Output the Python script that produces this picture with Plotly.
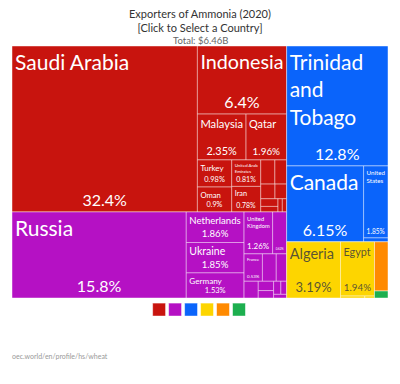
import plotly.graph_objects as go

# ---------------- data ----------------
continents = ["Asia", "Europe", "North America", "Africa", "South America", "Oceania"]
continent_colors = ["#C8140E", "#B511C4", "#0A64FB", "#FDD500", "#FF8A00", "#1DAF4F"]

asia_countries = ["Saudi Arabia", "Indonesia", "Malaysia", "Qatar", "Turkey", "Oman",
                  "United Arab Emirates", "Iran", "China", "Japan", "Kuwait", "Bahrain",
                  "South Korea", "India", "Israel", "Singapore"]
asia_shares = [32.4, 6.4, 2.35, 1.96, 0.98, 0.9, 0.81, 0.78, 0.36, 0.3, 0.22, 0.18,
               0.14, 0.1, 0.06, 0.06]

europe_countries = ["Russia", "Netherlands", "Ukraine", "Germany", "United Kingdom", "France",
                    "Lithuania", "Belgium", "Poland", "Belarus", "Bulgaria", "Croatia",
                    "Romania", "Austria", "Spain"]
europe_shares = [15.8, 1.86, 1.85, 1.53, 1.26, 0.53, 0.62, 0.4, 0.3, 0.25, 0.15, 0.12,
                 0.1, 0.08, 0.05]

north_america_countries = ["Trinidad and Tobago", "Canada", "United States", "Mexico"]
north_america_shares = [12.8, 6.15, 1.85, 0.1]

africa_countries = ["Algeria", "Egypt", "Nigeria", "Libya"]
africa_shares = [3.19, 1.94, 0.05, 0.02]

south_america_countries = ["Venezuela"]
south_america_shares = [0.7]

oceania_countries = ["Australia"]
oceania_shares = [0.1]

title_text = "Exporters of Ammonia (2020)<br>[Click to Select a Country]"
total_label = "Total: $6.46B"
source_label = "oec.world/en/profile/hs/wheat"

wrapped_names = {
    "Trinidad and Tobago": "Trinidad<br>and<br>Tobago",
    "United Kingdom": "United<br>Kingdom",
    "United States": "United<br>States",
    "United Arab Emirates": "United Arab<br>Emirates",
}
name_hidden = ["Lithuania", "Venezuela"]   # tiles too narrow for a name in the reference
pct_hidden = ["Venezuela"]
short_tiles = ["Germany"]                  # flat tiles get slightly smaller text

# ---------------- build hierarchy ----------------
groups = [
    (asia_countries, asia_shares),
    (europe_countries, europe_shares),
    (north_america_countries, north_america_shares),
    (africa_countries, africa_shares),
    (south_america_countries, south_america_shares),
    (oceania_countries, oceania_shares),
]

FONT = "Lato, 'Source Sans Pro', Roboto, sans-serif"

ids, labels, parents, values, colors = [], [], [], [], []
name_text, pct_text, txt_colors, name_sizes, pct_sizes = [], [], [], [], []
for cont, col, (names, shares) in zip(continents, continent_colors, groups):
    ids.append(cont); labels.append(cont); parents.append(""); values.append(0)
    colors.append(col); name_text.append(""); pct_text.append("")
    txt_colors.append("white"); name_sizes.append(10); pct_sizes.append(10)
    tc = "rgba(60,60,60,0.85)" if cont == "Africa" else "white"
    for n, s in zip(names, shares):
        ids.append(cont + "/" + n); labels.append(n); parents.append(cont)
        values.append(s); colors.append(col)
        show = s >= 0.5
        name_text.append(wrapped_names.get(n, n) if show and n not in name_hidden else "")
        pct_text.append(f"{s}%" if show and n not in pct_hidden else "")
        txt_colors.append(tc)
        k = 0.85 if n in short_tiles else 1.0
        name_sizes.append(k * min(21, 5 + 3.0 * s))
        pct_sizes.append(k * min(16, 5 + 2.5 * s))

common = dict(
    ids=ids, labels=labels, parents=parents, values=values,
    branchvalues="remainder", sort=True,
    tiling=dict(packing="squarify", squarifyratio=1.618, pad=0),
    pathbar=dict(visible=False),
    domain=dict(x=[0, 1], y=[0.0935, 1]),
    textinfo="text",
)

fig = go.Figure()
fig.add_trace(go.Treemap(
    **common,
    text=name_text,
    textposition="top left",
    textfont=dict(family=FONT, size=name_sizes, color=txt_colors),
    marker=dict(colors=colors, line=dict(color="rgba(255,255,255,0.45)", width=1),
                pad=dict(t=0, l=0, r=0, b=0)),
    hoverinfo="label+value",
))
fig.add_trace(go.Treemap(
    **common,
    text=pct_text,
    textposition="bottom center",
    textfont=dict(family=FONT, size=pct_sizes, color=txt_colors),
    marker=dict(colors=["rgba(0,0,0,0)"] * len(ids), line=dict(width=0),
                pad=dict(t=0, l=0, r=0, b=0)),
    hoverinfo="skip",
))

# legend squares
fig.add_trace(go.Scatter(
    x=list(range(len(continents))), y=[0] * len(continents),
    mode="markers", xaxis="x", yaxis="y",
    marker=dict(symbol="square", size=13, color=continent_colors,
                line=dict(color="rgba(255,255,255,0.55)", width=1)),
    hovertext=continents, hoverinfo="text", showlegend=False,
))

fig.update_layout(
    width=400, height=384,
    margin=dict(l=4, r=20, t=38, b=68),
    paper_bgcolor="white", plot_bgcolor="white",
    showlegend=False,
    font=dict(family=FONT, color="#333"),
    xaxis=dict(domain=[0.37, 0.625], range=[-0.5, 5.5], visible=False, fixedrange=True),
    yaxis=dict(domain=[0.01, 0.0935], range=[-1, 1], visible=False, fixedrange=True),
    annotations=[
        dict(text=title_text, x=0.5, y=1.0935, xref="paper", yref="paper",
             yanchor="middle", showarrow=False,
             font=dict(size=11, color="#333", family=FONT)),
        dict(text=total_label, x=0.5, y=1.0198, xref="paper", yref="paper",
             yanchor="middle", showarrow=False, font=dict(size=9.5, color="#666", family=FONT)),
        dict(text=source_label, x=-0.005, y=-0.115, xref="paper", yref="paper",
             xanchor="left", yanchor="middle", showarrow=False,
             font=dict(size=7, color="#999", family=FONT)),
    ],
)

fig.write_html("out.html")
